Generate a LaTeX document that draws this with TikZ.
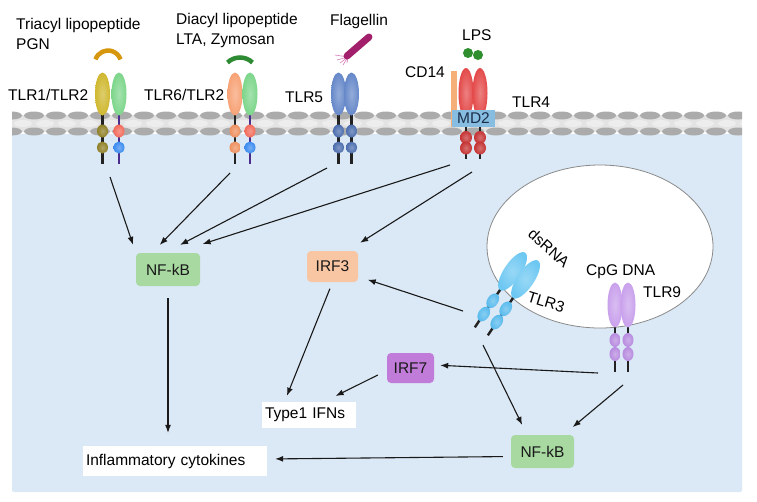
\documentclass[tikz,border=0pt]{standalone}
\usepackage{fontspec}
\setmainfont{Liberation Sans}
\usepackage{tikz}
\usetikzlibrary{positioning,arrows.meta}
\definecolor{bgBlue}{HTML}{DBE9F6}
\definecolor{memGray}{HTML}{ABABAB}
\definecolor{memLight}{HTML}{E3E3E3}
\definecolor{memMid}{HTML}{EDEDED}
\definecolor{tlrYel}{HTML}{CFB82F}
\definecolor{tlrYelD}{HTML}{8F8026}
\definecolor{tlrGrn}{HTML}{7DD68B}
\definecolor{domRed}{HTML}{F26B5B}
\definecolor{domBlue}{HTML}{3C8CF0}
\definecolor{stalkPur}{HTML}{4A2C8C}
\definecolor{stalkBlk}{HTML}{222222}
\definecolor{tlrOra}{HTML}{F7A275}
\definecolor{tlrOraD}{HTML}{EE905E}
\definecolor{tlrBlu}{HTML}{6688C9}
\definecolor{tlrBluD}{HTML}{4B6DAE}
\definecolor{tlrRed}{HTML}{E44A4A}
\definecolor{tlrRedD}{HTML}{C53333}
\definecolor{cdOra}{HTML}{F5B07A}
\definecolor{mdBlu}{HTML}{86BDE1}
\definecolor{mdText}{HTML}{1C2E4A}
\definecolor{lpsGrn}{HTML}{2F8F2F}
\definecolor{arcGold}{HTML}{D6960E}
\definecolor{arcGrn}{HTML}{2E8B34}
\definecolor{flagMag}{HTML}{A21F6C}
\definecolor{hairPink}{HTML}{D77CBB}
\definecolor{tlrSky}{HTML}{6CC7F2}
\definecolor{tlrSkyD}{HTML}{56B9EC}
\definecolor{tlrLil}{HTML}{C9A1EC}
\definecolor{tlrLilD}{HTML}{B78BDF}
\definecolor{endoGray}{HTML}{8A8A8A}
\definecolor{nfkbGrn}{HTML}{A8D9A1}
\definecolor{irfOra}{HTML}{F9C6A4}
\definecolor{irfPur}{HTML}{C17CD9}

\begin{document}
\begin{tikzpicture}[x=1pt, y=-1pt, >={Latex[length=8pt,width=6pt]},
                    every node/.style={font=\fontsize{15.5}{20.5}\selectfont, inner sep=0pt},
                    box/.style={rounded corners=4pt, fill=#1, text=black!90},
                    wbox/.style={fill=white, align=left, inner xsep=3pt},
                    arr/.style={->, line width=1.1pt, black!90},
                    ecto/.style={inner color=#1!70!white, outer color=#1},
                    stalk/.style={line width=2.4pt, draw=#1},
                    ligand/.style={line width=4.5pt, draw=#1}]
\useasboundingbox (0,0) rectangle (757,501);
\fill[white] (0,0) rectangle (757,501);
\fill[bgBlue, rounded corners=2pt] (12,134) rectangle (742,492);

% membrane
\begin{scope}
\clip (12,111) rectangle (742,136);
\fill[memLight] (12,115) rectangle (742,132);
\foreach \i in {0,...,34} {
  \fill[memMid] ({23+22*\i},123.5) ellipse (9 and 3.5);
  \fill[memGray] ({12+22*\i},115.5) ellipse (10 and 4);
  \fill[memGray] ({12+22*\i},131.5) ellipse (10 and 4);
}
\end{scope}

% ligands
\draw[ligand=arcGold] ([shift={(199:13.2)}]108,63.7) arc[start angle=199, end angle=341, radius=13.2];
\draw[ligand=arcGrn] ([shift={(226:18)}]240,75.5) arc[start angle=226, end angle=314, radius=18];
\foreach \hx/\hy in {335/55, 337/60, 340/63, 343/65, 347/63}
  \draw[hairPink, line width=0.6pt] (348,57) -- (\hx,\hy);
\draw[flagMag, line width=7pt, line cap=round] (347,56) -- (369,37);
\fill[lpsGrn] (468,53) circle (5);
\fill[lpsGrn] (478,55) circle (5);

% surface receptors
\foreach \x/\ec/\da/\db/\st in {102.5/tlrYel/tlrYelD/tlrYelD/stalkBlk, 119/tlrGrn/domRed/domBlue/stalkPur,
                                235/tlrOra/tlrOraD/tlrOraD/stalkBlk, 250/tlrGrn/domRed/domBlue/stalkPur,
                                338.5/tlrBlu/tlrBluD/tlrBluD/stalkBlk, 351.5/tlrBlu/tlrBluD/tlrBluD/stalkBlk} {
  \draw[stalk=\st] (\x,110) -- (\x,164);
  \shade[ecto=\ec] (\x,94) ellipse (7.5 and 21.5);
  \shade[ecto=\da] (\x,131) ellipse (5.5 and 6.5);
  \shade[ecto=\db] (\x,147.5) ellipse (5.5 and 6);
}
\fill[cdOra] (451,71) rectangle (457,127);
\foreach \x in {466,480} {
  \draw[stalk=stalkBlk] (\x,115) -- (\x,159);
  \shade[ecto=tlrRed] (\x,93) ellipse (7.5 and 25);
  \shade[ecto=tlrRedD] (\x,137.5) ellipse (6 and 6.5);
  \shade[ecto=tlrRedD] (\x,148) ellipse (6 and 6.5);
}
\node[fill=mdBlu, minimum width=43pt, minimum height=17pt, text=mdText] (md2) at (473.5,118.5) {MD2};

% endosome
\draw[endoGray, fill=white, line width=0.8pt] (600,246.5) ellipse (113 and 81.5);
\foreach \px/\py in {500/290, 513/298} {
  \begin{scope}[shift={(\px,\py)}, rotate=-34]
    \draw[stalk=stalkBlk] (0,-5) -- (0,45);
    \shade[ecto=tlrSky] (0,-22.5) ellipse (8.5 and 22.5);
    \shade[ecto=tlrSkyD] (0,13) ellipse (5.5 and 8);
    \shade[ecto=tlrSkyD] (0,29) ellipse (5.5 and 8);
  \end{scope}
}
\foreach \x in {615,628} {
  \draw[stalk=stalkBlk] (\x,300) -- (\x,372);
  \shade[ecto=tlrLil] (\x,305) ellipse (7.5 and 22.5);
  \shade[ecto=tlrLilD] (\x,340) ellipse (5.5 and 7);
  \shade[ecto=tlrLilD] (\x,354) ellipse (5.5 and 7);
}

% labels
\node[anchor=north west, align=left] (triacyl) at (16,18) {Triacyl lipopeptide\\PGN};
\node[anchor=north west, align=left] (diacyl) at (176,13) {Diacyl lipopeptide\\LTA, Zymosan};
\node[anchor=base west] (flagellin) at (330,25) {Flagellin};
\node[anchor=base west] (lps) at (462,40) {LPS};
\node[anchor=base west] (cd14) at (405,77.5) {CD14};
\node[anchor=base west] (tlr12) at (8,100) {TLR1/TLR2};
\node[anchor=base west] (tlr62) at (144,100) {TLR6/TLR2};
\node[anchor=base west] (tlr5) at (285,102) {TLR5};
\node[anchor=base west] (tlr4) at (512,107) {TLR4};
\node[rotate=-42] (dsrna) at (549,248) {dsRNA};
\node[rotate=-17] (tlr3) at (546,302) {TLR3};
\node[anchor=base west] (cpg) at (586,275) {CpG DNA};
\node[anchor=base west] (tlr9) at (643,297) {TLR9};

% signalling boxes
\node[box=nfkbGrn, minimum width=64pt, minimum height=33pt] (nfkbL) at (168,269.5) {NF-kB};
\node[box=irfOra, minimum width=51pt, minimum height=31pt] (irf3) at (332.5,266.5) {IRF3};
\node[box=irfPur, minimum width=47pt, minimum height=30pt] (irf7) at (410.5,368) {IRF7};
\node[wbox, text width=88pt, minimum height=26pt] (type1) at (309,415) {Type1 IFNs};
\node[wbox, text width=178pt, minimum height=30pt] (infl) at (175,461) {Inflammatory cytokines};
\node[box=nfkbGrn, minimum width=63pt, minimum height=33pt] (nfkbR) at (542.5,451.5) {NF-kB};

% receptor outputs
\coordinate (out12) at (110,177);
\coordinate (out62) at (230,173);
\coordinate (out5) at (327,168);
\coordinate (out4a) at (450,165);
\coordinate (out4b) at (472,172);
\coordinate (out3a) at (463,311);
\coordinate (out3b) at (483,345);
\coordinate (out9a) at (598,373);
\coordinate (out9b) at (623,385);

\draw[arr, shorten >=8.5pt] (out12) -- (nfkbL.north west);
\draw[arr, shorten >=11pt] (out62) -- ([xshift=-16pt]nfkbL.north);
\draw[arr, shorten >=17pt] (out5) -- ([xshift=-3pt]nfkbL.north);
\draw[arr, shorten >=29pt] (out4a) -- ([xshift=7pt]nfkbL.north);
\draw[arr, shorten >=15pt] (out4b) -- ([xshift=15pt]irf3.north);
\draw[arr, shorten >=10pt] (out3a) -- ([yshift=-10pt]irf3.east);
\draw[arr, shorten <=7pt, shorten >=6.5pt] (irf3.south) -- ([xshift=-24.5pt]type1.north);
\draw[arr, shorten <=10pt, shorten >=13pt] ([yshift=-2.5pt]irf7.west) -- ([xshift=15pt]type1.north);
\draw[arr, shorten >=6pt] (out9a) -- ([yshift=3pt]irf7.east);
\draw[arr, shorten >=11pt] (out3b) -- ([xshift=-15.5pt]nfkbR.north);
\draw[arr, shorten >=12pt] (out9b) -- ([xshift=21pt]nfkbR.north);
\draw[arr, shorten <=12pt, shorten >=13pt] (nfkbL.south) -- (nfkbL.south |- infl.north);
\draw[arr, shorten <=8pt, shorten >=8pt] ([yshift=-5pt]nfkbR.west) -- ([yshift=2pt]infl.east);
\end{tikzpicture}
\end{document}
